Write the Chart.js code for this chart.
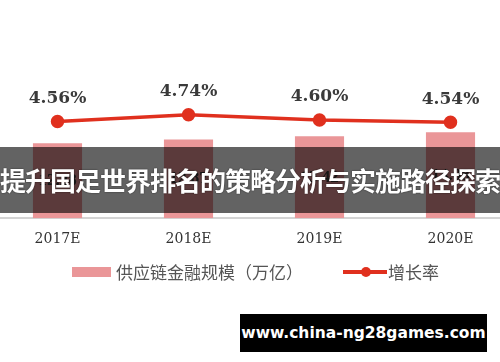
<!DOCTYPE html>
<html>
<head>
<meta charset="utf-8">
<script src="https://cdn.jsdelivr.net/npm/chart.js@4"></script>
<style>
  html, body { margin: 0; padding: 0; background: #fff; }
  body { width: 500px; height: 362px; position: relative; overflow: hidden; }
  #wrap { position: absolute; left: -8px; top: 0; width: 524px; height: 266px; }
  .legend { position: absolute; top: 262px; left: 0; height: 20px; font-family: "Noto Sans CJK SC", sans-serif; font-size: 17px; color: #555; }
  .legend span { position: absolute; top: 0; line-height: 20px; white-space: nowrap; }
  .swatch { position: absolute; left: 72px; top: 5px; width: 39px; height: 10px; background: #ea9698; }
  .lline { position: absolute; left: 343px; top: 8px; width: 44px; height: 4px; background: #e0301e; }
  .ldot { position: absolute; left: 361px; top: 5px; width: 10px; height: 10px; border-radius: 50%; background: #e0301e; }
  .banner { position: absolute; left: 0; top: 147px; width: 500px; height: 66px; background: rgba(0,0,0,0.61);
            color: #fff; font-family: "Noto Sans CJK SC", sans-serif; font-weight: bold; font-size: 26px; letter-spacing: -1px;
            line-height: 66px; text-align: center; white-space: nowrap; overflow: hidden; text-shadow: 0 0 2px rgba(0,0,0,0.6); }
  .mark { position: absolute; left: 240px; top: 314px; width: 247px; height: 38px; background: #000; color: #fff;
          font-family: "DejaVu Sans", sans-serif; font-weight: bold; font-size: 15.5px; line-height: 38px; text-align: center; }
</style>
</head>
<body>
<div id="wrap"><canvas id="chart"></canvas></div>
<div class="legend" style="width:500px">
  <div class="swatch"></div>
  <span style="left:116px">供应链金融规模（万亿）</span>
  <div class="lline"></div><div class="ldot"></div>
  <span style="left:388px">增长率</span>
</div>
<div class="banner">提升国足世界排名的策略分析与实施路径探索</div>
<div class="mark">www.china-ng28games.com</div>
<script>
const years = ['2017E', '2018E', '2019E', '2020E'];
const scaleValues = [12.28, 12.87, 13.42, 14.08];
const growthRates = [4.56, 4.74, 4.60, 4.54];

// labels on top of the line points and inside the bars
const valueLabels = {
    id: 'valueLabels',
    afterDatasetsDraw(chart) {
        const ctx = chart.ctx;
        ctx.save();
        ctx.textAlign = 'center';
        ctx.textBaseline = 'middle';
        ctx.fillStyle = '#3a3a3a';
        ctx.font = 'bold 17px "DejaVu Serif", serif';
        chart.getDatasetMeta(0).data.forEach((p, i) => {
            ctx.fillText(growthRates[i].toFixed(2) + '%', p.x, p.y - 23);
        });
        ctx.font = 'bold 17px "Liberation Serif", serif';
        chart.getDatasetMeta(1).data.forEach((b, i) => {
            ctx.fillText(scaleValues[i].toFixed(2), b.x, (b.y + b.base) / 2);
        });
        ctx.restore();
    }
};

new Chart(document.getElementById('chart'), {
    data: {
        labels: years,
        datasets: [{
            type: 'line',
            label: '增长率',
            data: growthRates,
            yAxisID: 'y2',
            borderColor: '#e0301e',
            backgroundColor: '#e0301e',
            borderWidth: 3.5,
            pointRadius: 5,
            pointHoverRadius: 5,
            order: 0
        }, {
            type: 'bar',
            label: '供应链金融规模（万亿）',
            data: scaleValues,
            yAxisID: 'y',
            backgroundColor: '#ea9698',
            barPercentage: 0.75,
            categoryPercentage: 0.5,
            order: 1
        }]
    },
    options: {
        responsive: true,
        maintainAspectRatio: false,
        animation: false,
        layout: { autoPadding: false, padding: { top: 10, bottom: 5 } },
        plugins: { legend: { display: false }, tooltip: { enabled: false } },
        scales: {
            x: {
                grid: { display: false, drawTicks: false },
                border: { display: true, color: '#d4d4d4', width: 2 },
                ticks: { color: '#333', padding: 13, font: { family: '"DejaVu Serif", serif', size: 14 } }
            },
            y: { display: false, min: 0, max: 34.1 },
            y2: { display: false, min: 1.94, max: 7.58 }
        }
    },
    plugins: [valueLabels]
});
</script>
</body>
</html>
